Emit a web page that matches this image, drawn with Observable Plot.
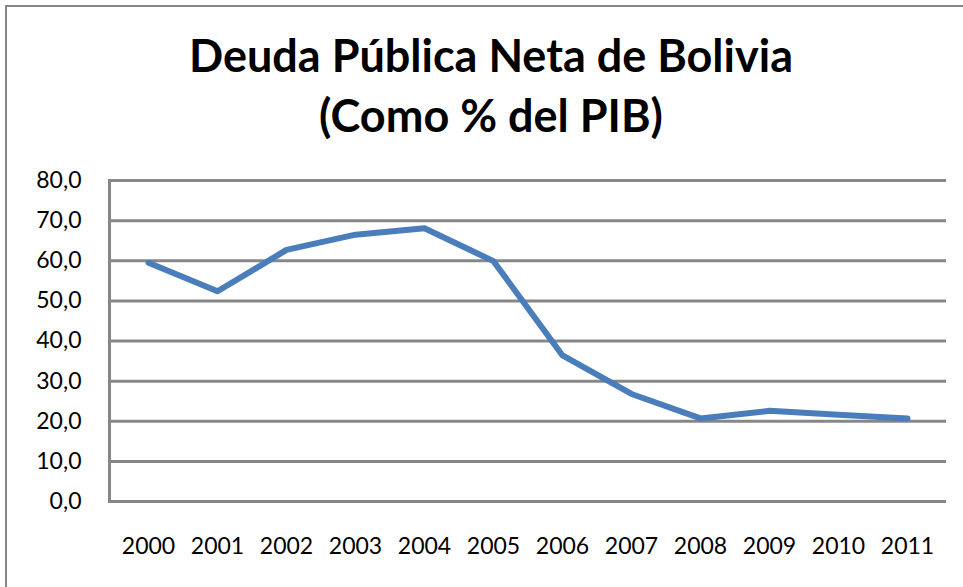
<!DOCTYPE html>
<html>
<head>
<meta charset="utf-8">
<script src="https://cdn.jsdelivr.net/npm/d3@7"></script>
<script src="https://cdn.jsdelivr.net/npm/@observablehq/plot@0.6"></script>
<style>
  html, body { margin: 0; padding: 0; background: #fff; }
  body { width: 963px; height: 587px; position: relative; overflow: hidden; font-family: Lato, "Open Sans", sans-serif; }
  #frame { position: absolute; left: 5px; top: 5px; width: 1000px; height: 700px; border-left: 2px solid #878787; border-top: 2px solid #878787; }
  #title { position: absolute; left: 0; width: 982px; top: 25px; text-align: center; font-weight: bold; font-size: 45px; line-height: 60px; color: #000; }
  #chart { position: absolute; left: 0; top: 160px; }
</style>
</head>
<body>
<div id="frame"></div>
<div id="title">Deuda Pública Neta de Bolivia<br>(Como % del PIB)</div>
<div id="chart"></div>
<script>
const years = ["2000","2001","2002","2003","2004","2005","2006","2007","2008","2009","2010","2011"];
const debt = [59.5, 52.4, 62.7, 66.5, 68.1, 59.9, 36.4, 26.8, 20.7, 22.6, 21.6, 20.7];
const yTicks = [0, 10, 20, 30, 40, 50, 60, 70, 80];

const data = years.map((y, i) => ({year: y, value: debt[i]}));

const plot = Plot.plot({
  width: 963,
  height: 427,
  marginLeft: 109,
  marginRight: 17,
  marginTop: 20,
  marginBottom: 86,
  style: {fontFamily: "Lato, 'Open Sans', sans-serif", fontSize: "23px", color: "#000", background: "transparent", overflow: "visible"},
  x: {type: "point", domain: years, padding: 0.5, align: 0.5},
  y: {domain: [0, 80]},
  marks: [
    Plot.ruleY(yTicks, {stroke: "#878787", strokeWidth: 3}),
    Plot.frame({anchor: "left", stroke: "#878787", strokeWidth: 3}),
    Plot.axisY(yTicks, {tickSize: 0, tickPadding: 28, tickFormat: d => d.toFixed(1).replace(".", ","), label: null, fontSize: 23}),
    Plot.axisX({tickSize: 0, tickPadding: 36, label: null, fontSize: 23}),
    Plot.line(data, {x: "year", y: "value", stroke: "#4a7ebb", strokeWidth: 6, strokeLinejoin: "round", strokeLinecap: "round"})
  ]
});
document.getElementById("chart").appendChild(plot);
</script>
</body>
</html>
